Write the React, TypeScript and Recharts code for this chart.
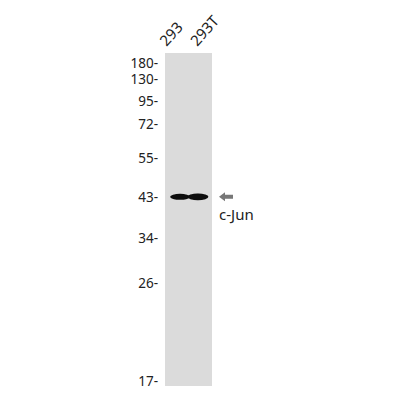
import React from 'react';
import { ComposedChart, Scatter, XAxis, YAxis, ReferenceArea, ReferenceDot } from 'recharts';

// marker ladder (kDa) and relative migration from top of the lane
const markerLabels = ['180', '130', '95', '72', '55', '43', '34', '26', '17'];
const markerRf = [0.031, 0.079, 0.144, 0.213, 0.315, 0.432, 0.556, 0.691, 0.985];

// lanes (label positions across the gel strip)
const laneNames = ['293', '293T'];
const laneCenters = [0.45, 1.75];

// detected band per lane
const bandLane = [0.64, 1.4];
const bandRf = [0.432, 0.432];
const bandIntensity = [0.8, 1.0];

const targetName = 'c-Jun';

const bands = bandLane.map((x, i) => ({ x, rf: bandRf[i], intensity: bandIntensity[i] }));

const FONT = '"Noto Sans", "Open Sans", sans-serif';

const MarkerTick = (props: any) => {
  const { x, y, payload } = props;
  const idx = markerRf.indexOf(payload.value);
  return (
    <text x={x} y={y} dy={5} textAnchor="end" fontSize={13.5} fill="#222" fontFamily={FONT}>
      {markerLabels[idx]}-
    </text>
  );
};

const LaneTick = (props: any) => {
  const { x, payload } = props;
  const idx = laneCenters.indexOf(payload.value);
  const tx = x - 9;
  const ty = 47;
  return (
    <text
      x={tx}
      y={ty}
      transform={`rotate(-48 ${tx} ${ty})`}
      textAnchor="start"
      fontSize={15}
      fill="#222"
      fontFamily={FONT}
    >
      {laneNames[idx]}
    </text>
  );
};

const BandShape = (props: any) => {
  const { cx, cy, payload } = props;
  const rx = 7.5 + 3 * payload.intensity;
  const ry = 1.4 + 2 * payload.intensity;
  return <ellipse cx={cx} cy={cy} rx={rx} ry={ry} fill="#0d0d0d" filter="url(#blur)" />;
};

const ArrowLabel = (props: any) => {
  const { cx, cy } = props;
  const x0 = cx + 7;
  return (
    <g>
      <polygon
        points={`${x0},${cy} ${x0 + 6},${cy - 4.5} ${x0 + 6},${cy - 2} ${x0 + 14},${cy - 2} ${x0 + 14},${cy + 2} ${x0 + 6},${cy + 2} ${x0 + 6},${cy + 4.5}`}
        fill="#777"
      />
      <text x={x0} y={cy + 23} fontSize={15} fill="#222" fontFamily={FONT}>
        {targetName}
      </text>
    </g>
  );
};

const App: React.FC = () => {
  return (
    <div style={{ width: 400, height: 400, background: '#fff' }}>
      <style>{'body{margin:0}'}</style>
      <ComposedChart width={400} height={400} data={bands} margin={{ top: 0, right: 188, bottom: 14, left: 0 }}>
        <defs>
          <filter id="blur" x="-20%" y="-50%" width="140%" height="200%">
            <feGaussianBlur stdDeviation="0.7" />
          </filter>
        </defs>
        <XAxis
          type="number"
          dataKey="x"
          orientation="top"
          domain={[0, 2]}
          ticks={laneCenters}
          height={53}
          axisLine={false}
          tickLine={false}
          tick={<LaneTick />}
          interval={0}
        />
        <YAxis
          type="number"
          dataKey="rf"
          domain={[0, 1]}
          reversed
          ticks={markerRf}
          width={165}
          axisLine={false}
          tickLine={false}
          tickMargin={1}
          tick={<MarkerTick />}
          interval={0}
        />
        <ReferenceArea x1={0} x2={2} y1={0} y2={1} fill="#dbdbdb" fillOpacity={1} stroke="none" />
        <Scatter data={bands} dataKey="rf" shape={<BandShape />} isAnimationActive={false} />
        <ReferenceDot x={2} y={bandRf[1]} ifOverflow="visible" shape={<ArrowLabel />} />
      </ComposedChart>
    </div>
  );
};

export default App;
